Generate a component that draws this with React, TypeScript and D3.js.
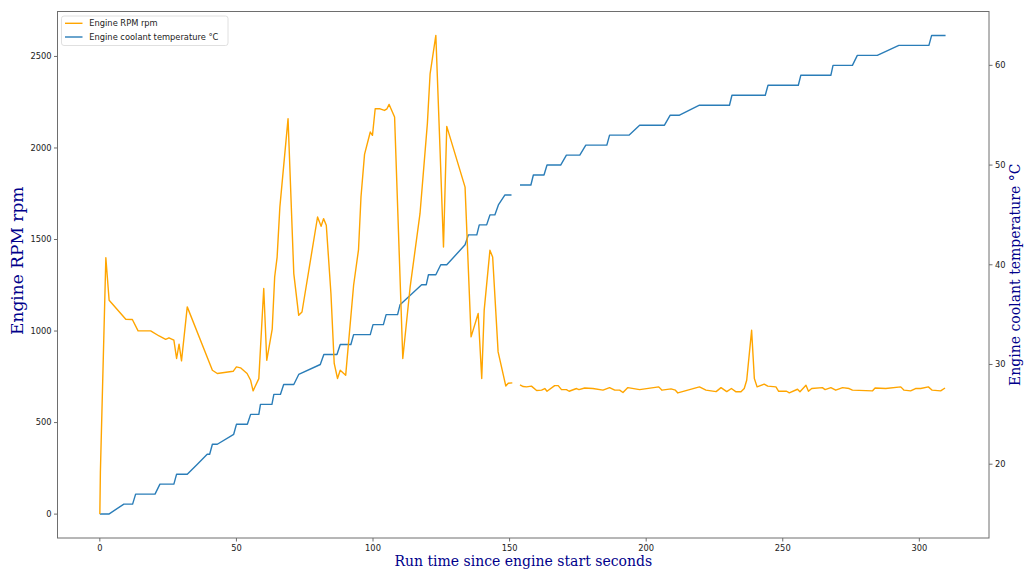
import React from "react";
import * as d3 from "d3";

// Engine RPM samples (seconds since start, rpm). null marks a dropped reading.
const rpmTime: number[] = [
  0, 0.2, 2.2, 3.4, 9.5, 11.9, 14, 18.6, 21.7, 24.1, 25.3, 27.1, 28.1, 29, 29.9, 32,
  41.2, 43, 48.8, 50, 51.5, 53.9, 55.2, 56.1, 58.2, 60, 61.1, 63.1, 64, 64.9, 65.9,
  68.9, 71, 72.8, 74, 79.7, 81, 81.9, 82.9, 84.6, 85.8, 87, 88, 90, 92.9, 94.7, 95.6,
  96.9, 99, 99.8, 100.8, 102.6, 104.2, 105.1, 105.9, 107.9, 110.9, 113.6, 117.2,
  119.9, 120.9, 123, 124.5, 125.8, 127, 133.7, 135.9, 138.5, 139.8, 140.7, 142.8,
  143.8, 145.8, 148.6, 149.5, 151, 152, 153.8, 155, 156.2, 158, 159.9, 161.7, 162.9,
  163.7, 166.5, 167.8, 169, 170.8, 171.8, 174.5, 175.4, 177.5, 180.5, 184.2, 186.6,
  188.5, 190.3, 191.5, 193.3, 197.6, 204.6, 205.8, 209.1, 210.7, 211.6, 219.5, 221.9,
  225.6, 227.4, 229.5, 231.2, 232.9, 234.7, 235.9, 236.8, 238.6, 239.6, 240.6, 243.2,
  244.5, 247.5, 248.5, 251.4, 252.4, 255.4, 256.3, 258.5, 259.4, 260.6, 264.5, 265.5,
  267.6, 269.4, 271.9, 274.3, 275.5, 282.8, 283.8, 287.7, 293.2, 294.4, 296.8, 298.6,
  300.5, 303.3, 304.7, 307.8, 309.4,
];
const rpmValue: (number | null)[] = [
  0, 230, 1400, 1168, 1064, 1063, 1001, 1001, 973, 955, 963, 950, 850, 928, 837, 1132,
  786, 768, 780, 804, 799, 768, 731, 673, 740, 1232, 840, 1010, 1295, 1404, 1677,
  2160, 1314, 1086, 1104, 1623, 1572, 1614, 1578, 1205, 823, 741, 786, 759, 1250, 1445, 1732,
  1965, 2087, 2069, 2214, 2214, 2205, 2214, 2238, 2169, 850, 1241, 1641,
  2133, 2405, 2615, 2005, 1459, 2118, 1786, 968, 1096, 741, 1114, 1441,
  1404, 886, 700, 715, 717, null, 706, 697, 695, 699, 675, 677, 686,
  671, 702, 702, 680, 680, 671, 686, 680, 689, 686, 677, 691,
  677, 677, 664, 691, 680, 695, 677, 684, 677, 662, 695, 677,
  669, 691, 669, 686, 668, 668, 686, 731, 1004, 741, 695, 710,
  699, 695, 671, 671, 662, 682, 668, 704, 671, 686, 691, 680,
  691, 677, 691, 686, 677, 673, 689, 686, 695, 677, 673, 686,
  686, 695, 677, 673, 689,
];

// Coolant temperature samples (seconds since start, °C).
const coolantTime: number[] = [
  0, 3.3, 8.8, 12, 13.1, 20.2, 22, 27.1, 28.1, 32, 35.7, 39.3, 40.2, 41.2, 43, 49, 50,
  54, 55.2, 58.2, 58.8, 63, 63.7, 66.1, 67.3, 71, 72.8, 80.7, 82, 86.8, 88, 91.9,
  92.9, 99, 100, 103.8, 104.8, 109, 109.9, 117.8, 119.5, 120.3, 123, 124.8, 127,
  133.7, 134.9, 138, 138.9, 141.6, 142.8, 144.6, 145.9, 148.3, 150.7, 152, 153.8,
  157.8, 158.7, 162.6, 163.7, 168.7, 170.8, 175.7, 177.9, 185.6, 186.6, 193.7, 197.6,
  206.7, 208.8, 212.2, 219.5, 230.5, 231.4, 243.6, 244.6, 255.7, 256.6, 267.6, 268.4,
  275.5, 277.3, 284.6, 292.5, 303.5, 304.5, 309.6,
];
const coolantValue: (number | null)[] = [
  15, 15, 16, 16, 17, 17, 18, 18, 19, 19, 20, 21, 21, 22, 22, 23, 24,
  24, 25, 25, 26, 26, 27, 27, 28, 28, 29, 30, 31, 31, 32, 32,
  33, 33, 34, 34, 35, 35, 36, 38, 38, 39, 39, 40, 40,
  42, 43, 43, 44, 44, 45, 45, 46, 47, 47, null, 48,
  48, 49, 49, 50, 50, 51, 51, 52, 52, 53, 53, 54,
  54, 55, 55, 56, 56, 57, 57, 58, 58, 59, 59, 60,
  60, 61, 61, 62, 62, 63, 63,
];

const xTicks = [0, 50, 100, 150, 200, 250, 300];
const rpmTicks = [0, 500, 1000, 1500, 2000, 2500];
const coolantTicks = [20, 30, 40, 50, 60];

const W = 1024;
const H = 569;
const M = { left: 57.5, right: 989, top: 11.5, bottom: 538 };

const ORANGE = "#FFA500";
const BLUE = "#2a7db8";
const SPINE = "#6e6e6e";
const TICK_FONT = "'DejaVu Sans', sans-serif";
const LABEL_FONT = "'DejaVu Serif', serif";
const LABEL_COLOR = "darkblue";

export default function App() {
  const x = d3.scaleLinear().domain([-15.5, 325.5]).range([M.left, M.right]);
  const yRpm = d3.scaleLinear().domain([-130.5, 2745.5]).range([M.bottom, M.top]);
  const yTemp = d3.scaleLinear().domain([12.6, 65.4]).range([M.bottom, M.top]);

  const rpmPts = rpmTime.map((t, i) => [t, rpmValue[i]] as [number, number | null]);
  const tempPts = coolantTime.map((t, i) => [t, coolantValue[i]] as [number, number | null]);

  const rpmLine = d3
    .line<[number, number | null]>()
    .defined((d) => d[1] !== null)
    .x((d) => x(d[0]))
    .y((d) => yRpm(d[1] as number));
  const tempLine = d3
    .line<[number, number | null]>()
    .defined((d) => d[1] !== null)
    .x((d) => x(d[0]))
    .y((d) => yTemp(d[1] as number));

  const midY = (M.top + M.bottom) / 2;
  const midX = (M.left + M.right) / 2;

  return (
    <svg
      width={W}
      height={H}
      style={{ position: "absolute", left: 0, top: 0, display: "block", background: "#fff" }}
    >
      <rect x={0} y={0} width={W} height={H} fill="#fff" />
      <g>
        <path d={tempLine(tempPts) ?? ""} fill="none" stroke={BLUE} strokeWidth={1.4} strokeLinejoin="round" />
        <path d={rpmLine(rpmPts) ?? ""} fill="none" stroke={ORANGE} strokeWidth={1.4} strokeLinejoin="round" />
      </g>

      {/* frame */}
      <rect
        x={M.left}
        y={M.top}
        width={M.right - M.left}
        height={M.bottom - M.top}
        fill="none"
        stroke={SPINE}
        strokeWidth={1}
      />

      {/* x axis */}
      {xTicks.map((t) => (
        <g key={"x" + t} transform={`translate(${x(t)},${M.bottom})`}>
          <line y1={0} y2={3.5} stroke={SPINE} />
          <text y={13} textAnchor="middle" fontFamily={TICK_FONT} fontSize={8.3} fill="#222">
            {t}
          </text>
        </g>
      ))}

      {/* left axis */}
      {rpmTicks.map((t) => (
        <g key={"l" + t} transform={`translate(${M.left},${yRpm(t)})`}>
          <line x1={0} x2={-3.5} stroke={SPINE} />
          <text x={-6} dy="0.33em" textAnchor="end" fontFamily={TICK_FONT} fontSize={8.3} fill="#222">
            {t}
          </text>
        </g>
      ))}

      {/* right axis */}
      {coolantTicks.map((t) => (
        <g key={"r" + t} transform={`translate(${M.right},${yTemp(t)})`}>
          <line x1={0} x2={3.5} stroke={SPINE} />
          <text x={6} dy="0.33em" textAnchor="start" fontFamily={TICK_FONT} fontSize={8.3} fill="#222">
            {t}
          </text>
        </g>
      ))}

      {/* axis titles */}
      <text x={midX} y={566} textAnchor="middle" fontFamily={LABEL_FONT} fontSize={14} fill={LABEL_COLOR}>
        Run time since engine start seconds
      </text>
      <text
        transform={`translate(23,${midY - 14}) rotate(-90)`}
        textAnchor="middle"
        fontFamily={LABEL_FONT}
        fontSize={17}
        fill={LABEL_COLOR}
      >
        Engine RPM rpm
      </text>
      <text
        transform={`translate(1020,${midY}) rotate(-90)`}
        textAnchor="middle"
        fontFamily={LABEL_FONT}
        fontSize={14}
        fill={LABEL_COLOR}
      >
        Engine coolant temperature °C
      </text>

      {/* legend */}
      <g>
        <rect x={61.5} y={16} width={166.5} height={29.5} rx={2.5} fill="#fff" fillOpacity={0.8} stroke="#d8d8d8" strokeWidth={0.8} />
        <line x1={65} x2={82.5} y1={23.3} y2={23.3} stroke={ORANGE} strokeWidth={1.4} />
        <text x={89.3} y={23.3} dy="0.35em" fontFamily={TICK_FONT} fontSize={8.3} fill="#222">
          Engine RPM rpm
        </text>
        <line x1={65} x2={82.5} y1={37} y2={37} stroke={BLUE} strokeWidth={1.4} />
        <text x={89.3} y={37} dy="0.35em" fontFamily={TICK_FONT} fontSize={8.3} fill="#222">
          Engine coolant temperature °C
        </text>
      </g>
    </svg>
  );
}
